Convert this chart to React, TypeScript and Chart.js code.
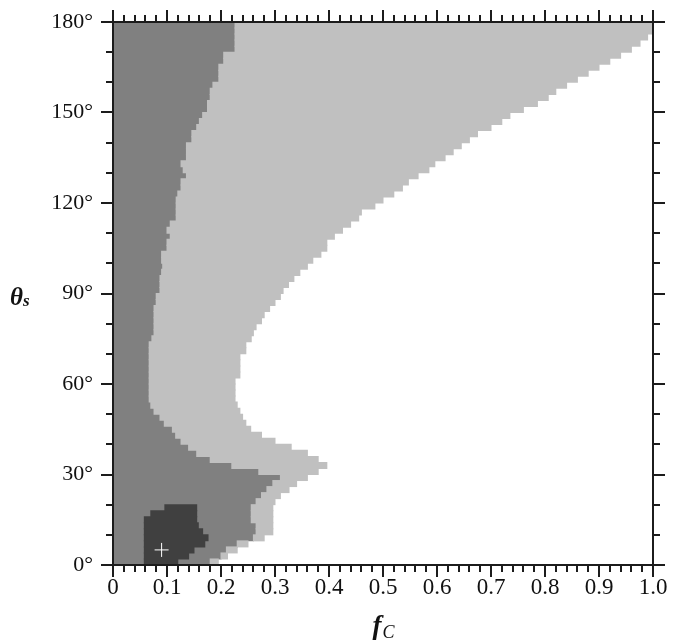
import React, { useEffect, useRef } from "react";
import { Chart, registerables } from "chart.js";

Chart.register(...registerables);

// Row centres of theta_s (degrees); each row spans +/- 1 degree
const thetaRows = [
  1, 3, 5, 7, 9, 11, 13, 15, 17, 19,
  21, 23, 25, 27, 29, 31, 33, 35, 37, 39,
  41, 43, 45, 47, 49, 51, 53, 55, 57, 59,
  61, 63, 65, 67, 69, 71, 73, 75, 77, 79,
  81, 83, 85, 87, 89, 91, 93, 95, 97, 99,
  101, 103, 105, 107, 109, 111, 113, 115, 117, 119,
  121, 123, 125, 127, 129, 131, 133, 135, 137, 139,
  141, 143, 145, 147, 149, 151, 153, 155, 157, 159,
  161, 163, 165, 167, 169, 171, 173, 175, 177, 179,
];

// Right edge of the dark-gray region (f_C) per row
const darkEdge = [
  0.18, 0.2, 0.21, 0.23, 0.26, 0.265, 0.265, 0.256, 0.256, 0.256,
  0.265, 0.275, 0.285, 0.296, 0.31, 0.27, 0.22, 0.18, 0.155, 0.14,
  0.126, 0.116, 0.11, 0.095, 0.087, 0.076, 0.07, 0.067, 0.067, 0.067,
  0.067, 0.067, 0.067, 0.067, 0.067, 0.067, 0.067, 0.072, 0.076, 0.076,
  0.076, 0.076, 0.076, 0.08, 0.08, 0.087, 0.087, 0.087, 0.09, 0.092,
  0.09, 0.09, 0.1, 0.1, 0.106, 0.1, 0.106, 0.117, 0.117, 0.117,
  0.117, 0.12, 0.126, 0.126, 0.136, 0.13, 0.126, 0.136, 0.136, 0.136,
  0.146, 0.146, 0.155, 0.16, 0.166, 0.175, 0.175, 0.18, 0.18, 0.185,
  0.196, 0.196, 0.196, 0.205, 0.205, 0.226, 0.226, 0.226, 0.226, 0.226,
];

// Right edge of the light-gray region (f_C) per row
const lightEdge = [
  0.195, 0.212, 0.23, 0.25, 0.28, 0.296, 0.296, 0.296, 0.296, 0.296,
  0.3, 0.31, 0.326, 0.34, 0.36, 0.38, 0.396, 0.38, 0.36, 0.33,
  0.3, 0.275, 0.255, 0.246, 0.24, 0.235, 0.23, 0.226, 0.226, 0.226,
  0.226, 0.235, 0.235, 0.235, 0.235, 0.246, 0.246, 0.256, 0.26, 0.265,
  0.275, 0.28, 0.29, 0.3, 0.31, 0.315, 0.325, 0.335, 0.346, 0.36,
  0.37, 0.385, 0.396, 0.396, 0.41, 0.425, 0.44, 0.455, 0.46, 0.485,
  0.5, 0.52, 0.536, 0.547, 0.565, 0.585, 0.596, 0.615, 0.63, 0.645,
  0.66, 0.675, 0.7, 0.72, 0.735, 0.76, 0.786, 0.806, 0.82, 0.84,
  0.86, 0.88, 0.9, 0.92, 0.94, 0.96, 0.976, 0.99, 1.0, 1.0,
];

// Darkest island near the bottom-left
const coreRows = [1, 3, 5, 7, 9, 11, 13, 15, 17, 19];
const coreLeft = [0.058, 0.058, 0.058, 0.058, 0.058, 0.058, 0.058, 0.058, 0.07, 0.096];
const coreRight = [0.12, 0.14, 0.15, 0.17, 0.176, 0.166, 0.158, 0.155, 0.155, 0.155];

// Marker
const markerPoint = [{ x: 0.09, y: 5 }];

// Tick labels
const xTickLabels = ["0", "0.1", "0.2", "0.3", "0.4", "0.5", "0.6", "0.7", "0.8", "0.9", "1.0"];
const yTickLabels = ["0°", "30°", "60°", "90°", "120°", "150°", "180°"];

const SERIF = "'Liberation Serif', 'DejaVu Serif', serif";

const framePlugin = {
  id: "frameTicks",
  afterDraw(chart: any) {
    const { ctx, chartArea, scales } = chart;
    const { left, right, top, bottom } = chartArea;
    const xs = scales.x;
    const ys = scales.y;
    ctx.save();
    ctx.strokeStyle = "#1c1c1c";
    ctx.lineWidth = 2;
    ctx.strokeRect(left, top, right - left, bottom - top);
    ctx.beginPath();
    for (let i = 0; i <= 50; i++) {
      const v = i / 50;
      const px = Math.round(xs.getPixelForValue(v));
      const len = i % 5 === 0 ? 12 : 7;
      ctx.moveTo(px, bottom);
      ctx.lineTo(px, bottom + len);
      ctx.moveTo(px, top);
      ctx.lineTo(px, top - len);
    }
    for (let i = 0; i <= 18; i++) {
      const v = i * 10;
      const py = Math.round(ys.getPixelForValue(v));
      const len = i % 3 === 0 ? 12 : 7;
      ctx.moveTo(left, py);
      ctx.lineTo(left - len, py);
      ctx.moveTo(right, py);
      ctx.lineTo(right + len, py);
    }
    ctx.stroke();

    // axis titles
    ctx.fillStyle = "#111";
    ctx.textBaseline = "alphabetic";
    ctx.textAlign = "left";
    const cx = (left + right) / 2;
    ctx.font = `italic bold 27px ${SERIF}`;
    const fw = ctx.measureText("f").width;
    ctx.font = `italic 18px ${SERIF}`;
    const cw = ctx.measureText("C").width;
    const sx = cx - (fw + cw) / 2;
    ctx.font = `italic bold 27px ${SERIF}`;
    ctx.fillText("f", sx, 634);
    ctx.font = `italic 18px ${SERIF}`;
    ctx.fillText("C", sx + fw + 1, 638);

    ctx.font = `italic bold 25px ${SERIF}`;
    ctx.fillText("θ", 10, 305);
    const tw = ctx.measureText("θ").width;
    ctx.font = `italic bold 17px ${SERIF}`;
    ctx.fillText("s", 10 + tw, 306);
    ctx.restore();
  },
};

export default function App() {
  const ref = useRef<HTMLCanvasElement | null>(null);

  useEffect(() => {
    document.body.style.margin = "0";
    const canvas = ref.current;
    if (!canvas) return;
    const chart = new Chart(canvas, {
      type: "bar",
      data: {
        datasets: [
          {
            type: "scatter",
            label: "marker",
            data: markerPoint,
            indexAxis: "x",
            pointStyle: "cross",
            radius: 7,
            borderColor: "#ffffff",
            backgroundColor: "#ffffff",
            borderWidth: 1,
            order: 0,
          } as any,
          {
            label: "core",
            data: coreRows.map((t, i) => ({ y: t, x: [coreLeft[i], coreRight[i]] })) as any,
            backgroundColor: "#404040",
            order: 1,
          },
          {
            label: "light",
            data: thetaRows.map((t, i) => ({ y: t, x: [darkEdge[i], lightEdge[i]] })) as any,
            backgroundColor: "#c0c0c0",
            order: 2,
          },
          {
            label: "dark",
            data: thetaRows.map((t, i) => ({ y: t, x: [0, darkEdge[i]] })) as any,
            backgroundColor: "#808080",
            order: 3,
          },
        ],
      },
      options: {
        indexAxis: "y",
        responsive: false,
        animation: false,
        datasets: {
          bar: {
            grouped: false,
            barPercentage: 1,
            categoryPercentage: 1,
            borderWidth: 0,
            inflateAmount: 0.5,
          },
        } as any,
        layout: { padding: { top: 22, right: 25, left: 0, bottom: 0 } },
        plugins: {
          legend: { display: false },
          tooltip: { enabled: false },
        },
        scales: {
          x: {
            type: "linear",
            min: 0,
            max: 1,
            offset: false,
            grid: { display: false, drawTicks: false, offset: false },
            border: { display: false },
            ticks: {
              stepSize: 0.1,
              autoSkip: false,
              maxRotation: 0,
              padding: 9,
              color: "#111",
              font: { family: SERIF, size: 23 },
              callback: (_v: any, i: number) => xTickLabels[i],
            },
            afterFit: (s: any) => {
              s.height = 76;
              s.paddingLeft = 0;
              s.paddingRight = 0;
            },
          },
          y: {
            type: "linear",
            min: 0,
            max: 180,
            offset: false,
            grid: { display: false, drawTicks: false, offset: false },
            border: { display: false },
            ticks: {
              stepSize: 30,
              autoSkip: false,
              padding: 20,
              color: "#111",
              font: { family: SERIF, size: 22 },
              callback: (_v: any, i: number) => yTickLabels[i],
            },
            afterFit: (s: any) => {
              s.width = 113;
              s.paddingTop = 0;
              s.paddingBottom = 0;
            },
          },
        },
      } as any,
      plugins: [framePlugin],
    });
    return () => chart.destroy();
  }, []);

  return (
    <div style={{ width: 678, height: 641, background: "#fff" }}>
      <canvas ref={ref} width={678} height={641} style={{ display: "block" }} />
    </div>
  );
}
